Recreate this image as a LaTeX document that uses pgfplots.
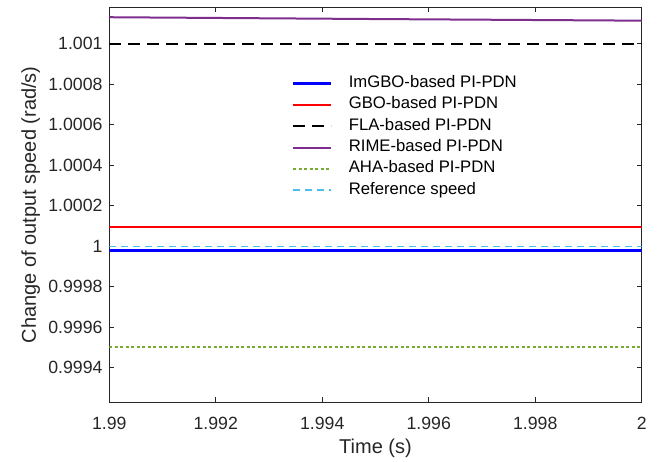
\documentclass[border=0pt]{standalone}
\usepackage{fontspec}
\setmainfont{Liberation Sans}
\usepackage{pgfplots}
\pgfplotsset{compat=1.18}
\definecolor{axgray}{rgb}{0.15,0.15,0.15}
\definecolor{rimecol}{rgb}{0.494,0.184,0.556}
\definecolor{ahacol}{rgb}{0.466,0.674,0.188}
\definecolor{refcol}{rgb}{0.301,0.745,0.933}
\makeatletter
\newcommand\fptrafo[3]{%
  \in@{Y}{#1}%
  \ifin@\pgfmathfloattosci{#1}\let\fptmpv\pgfmathresult\else\edef\fptmpv{#1}\fi
  \edef\pgfmathresult{\fpeval{(\fptmpv-#2)*#3}}}
\makeatother
\begin{document}
\begin{tikzpicture}
\path[use as bounding box] (-109.3bp,-59.7bp) rectangle (552.7bp,402.3bp);
\begin{axis}[
  scale only axis, width=532.4bp, height=395bp,
  at={(0,0)}, anchor=south west,
  x coord trafo/.code={\fptrafo{#1}{1.99}{1000}},
  y coord trafo/.code={\fptrafo{#1}{1}{10000}},
  xmin=1.99, xmax=2, ymin=0.99923, ymax=1.00118,
  xtick={1.99,1.992,1.994,1.996,1.998,2},
  xticklabels={1.99,1.992,1.994,1.996,1.998,2},
  ytick={0.9994,0.9996,0.9998,1,1.0002,1.0004,1.0006,1.0008,1.001},
  yticklabels={0.9994,0.9996,0.9998,1,1.0002,1.0004,1.0006,1.0008,1.001},
  minor tick num=0,
  tick align=inside, major tick length=5bp,
  axis line style={axgray, line width=0.8bp},
  tick style={axgray, line width=0.8bp},
  /pgf/number format/assume math mode=true,
  xticklabel style={font=\fontsize{17.7bp}{20bp}\selectfont, text=axgray, inner sep=0pt, anchor=north, yshift=-15bp},
  yticklabel style={font=\fontsize{17.7bp}{20bp}\selectfont, text=axgray, inner sep=0pt, anchor=east, xshift=-6.6bp},
  xlabel={Time (s)},
  ylabel={Change of output speed (rad/s)},
  xlabel style={font=\fontsize{20bp}{23bp}\selectfont, text=axgray, inner sep=0pt, at={(axis description cs:0.5,0)}, anchor=north, yshift=-36.5bp},
  ylabel style={font=\fontsize{20bp}{23bp}\selectfont, text=axgray, inner sep=0pt, at={(axis description cs:-0.1377,0.5)}, anchor=base},
  legend cell align=left,
  legend image code/.code={\draw[#1] (0bp,0bp) -- (38bp,0bp);},
  legend style={draw=none, fill=none, inner sep=0pt, outer sep=0pt,
    at={(axis description cs:0.3426,0.827)}, anchor=north west,
    font=\fontsize{16.7bp}{19bp}\selectfont,
    nodes={inner sep=0pt, text height=12bp, text depth=4bp},
    row sep=5.3bp, column sep=16.5bp},
]
\addplot[color=blue, line width=2.6bp] coordinates {(1.99,0.99998) (2,0.99998)};
\addlegendentry{ImGBO-based PI-PDN}
\addplot[color=red, line width=1.6bp] coordinates {(1.99,1.000096) (2,1.000096)};
\addlegendentry{GBO-based PI-PDN}
\addplot[color=black, line width=1.6bp, dash pattern=on 12bp off 7bp] coordinates {(1.99,1.001) (2,1.001)};
\addlegendentry{FLA-based PI-PDN}
\addplot[color=rimecol, line width=2bp, solid] coordinates {(1.99,1.001131) (1.995,1.001122) (2,1.001114)};
\addlegendentry{RIME-based PI-PDN}
\addplot[color=ahacol, line width=2bp, dash pattern=on 3bp off 2.5bp] coordinates {(1.99,0.999505) (2,0.999505)};
\addlegendentry{AHA-based PI-PDN}
\addplot[color=refcol, line width=1.4bp, dash pattern=on 7bp off 5bp] coordinates {(1.99,1.0) (2,1.0)};
\addlegendentry{Reference speed}
\end{axis}
\end{tikzpicture}
\end{document}
